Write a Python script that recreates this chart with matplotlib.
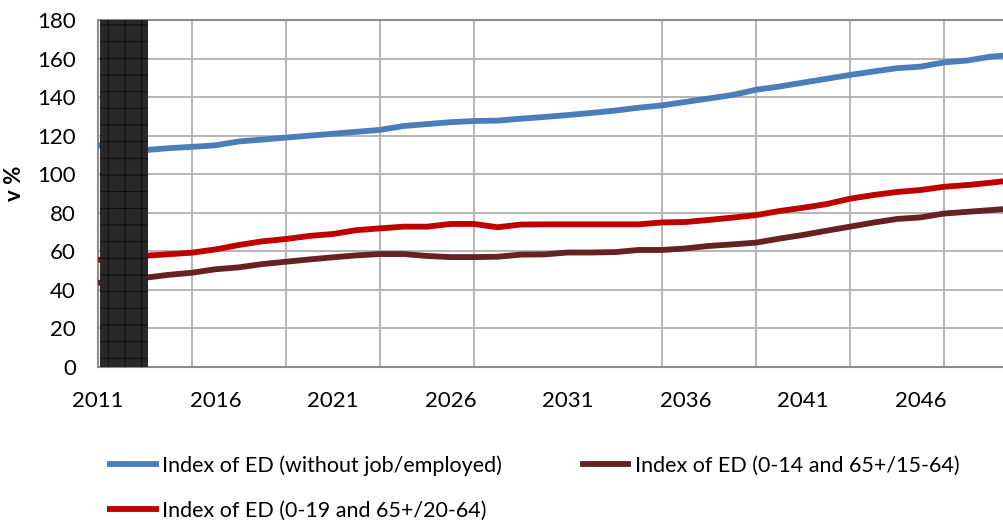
import matplotlib
matplotlib.use("Agg")
import matplotlib.pyplot as plt
import numpy as np

years = list(range(2011, 2051))
ed_without_job = [115, 113.5, 112.5, 113.5, 114.2, 115, 117, 118, 119, 120,
                  121, 122, 123, 125, 126, 127, 127.6, 127.8, 128.8, 129.7,
                  130.7, 131.8, 133, 134.5, 135.7, 137.5, 139.3, 141.1, 143.8, 145.5,
                  147.5, 149.5, 151.5, 153.3, 155, 155.8, 158, 159, 161, 162]
ed_0_14 = [43.6, 45, 46.3, 47.8, 48.9, 50.7, 51.7, 53.4, 54.6, 55.8,
           56.9, 57.9, 58.6, 58.6, 57.6, 57, 57, 57.2, 58.3, 58.4,
           59.4, 59.4, 59.6, 60.7, 60.7, 61.5, 62.8, 63.6, 64.5, 66.6,
           68.5, 70.7, 72.8, 74.9, 76.8, 77.6, 79.6, 80.5, 81.4, 82.3]
ed_0_19 = [55.5, 57, 57.7, 58.5, 59.3, 61, 63.3, 65.2, 66.4, 68,
           69, 71, 71.9, 72.8, 72.8, 74.2, 74.2, 72.5, 73.9, 74,
           74, 74, 74, 74, 75, 75.2, 76.3, 77.5, 78.8, 80.9,
           82.6, 84.5, 87.3, 89.2, 90.8, 91.8, 93.5, 94.4, 95.6, 97]
labels = ["Index of ED (without job/employed)",
          "Index of ED (0-14 and 65+/15-64)",
          "Index of ED (0-19 and 65+/20-64)"]
xtick_years = list(range(2011, 2050, 5))
yticks = list(range(0, 181, 20))

plt.rcParams['font.family'] = ['Lato', 'DejaVu Sans']
plt.rcParams['hatch.linewidth'] = 0.6

W, H = 1004, 523
fig = plt.figure(figsize=(W / 100, H / 100), dpi=100)
left, right, top, bottom = 98, 1014.5, 20, 367
ax = fig.add_axes([left / W, 1 - bottom / H, (right - left) / W, (bottom - top) / H])

l1, = ax.plot(years, ed_without_job, color='#4a7ebb', lw=4.2, solid_capstyle='butt', zorder=3)
l3, = ax.plot(years, ed_0_19, color='#c00000', lw=4.2, solid_capstyle='butt', zorder=3)
l2, = ax.plot(years, ed_0_14, color='#652123', lw=4.2, solid_capstyle='butt', zorder=3)

ax.axvspan(2011.1, 2013.13, facecolor='#282828', edgecolor='#0a0a0a', hatch='+', lw=0, zorder=4)

ax.set_xlim(2011, 2050)
ax.set_ylim(0, 180)
ax.set_yticks(yticks)
ax.set_xticks(xtick_years)
ax.set_xticks(list(range(2011, 2051, 4)), minor=True)
ax.tick_params(axis='both', which='both', length=0, labelsize=16, colors='black')
ax.tick_params(axis='y', pad=16)
ax.tick_params(axis='x', pad=17)
ax.grid(axis='y', which='major', color='#b0b0b0', lw=1.3, zorder=1)
ax.grid(axis='x', which='minor', color='#b0b0b0', lw=1.3, zorder=1)
ax.grid(axis='x', which='major', visible=False)
for s in ['left', 'bottom', 'top']:
    ax.spines[s].set_color('#8c8c8c')
    ax.spines[s].set_linewidth(1.5)
ax.spines['right'].set_visible(False)

fig.text(15 / W, 1 - 183 / H, 'v %', rotation=90, fontsize=16, fontweight='bold',
         ha='center', va='center')

fig.legend([l1, l3, l2], [labels[0], labels[2], labels[1]], ncol=2,
           loc='upper left', bbox_to_anchor=(88 / W, 1 - 436 / H),
           frameon=False, fontsize=15.5, handlelength=2.4, handletextpad=0.15,
           columnspacing=3.6, labelspacing=1.15)

fig.savefig('out.png', dpi=100)
